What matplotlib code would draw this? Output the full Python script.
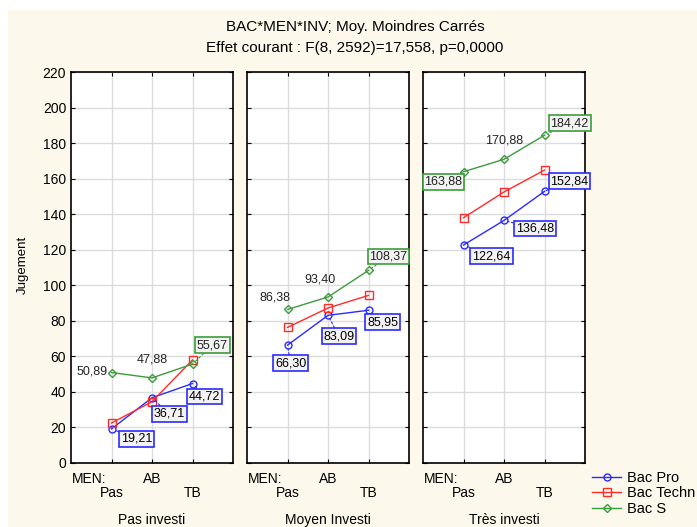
import matplotlib.pyplot as plt
from matplotlib.patches import Rectangle
from matplotlib.lines import Line2D

plt.rcParams['font.family'] = ['Liberation Sans', 'DejaVu Sans']

# data
men_levels = ['Pas', 'AB', 'TB']
inv_levels = ['Pas investi', 'Moyen Investi', 'Très investi']
series_names = ['Bac Pro', 'Bac Techn', 'Bac S']

bac_pro = [[19.21, 36.71, 44.72], [66.30, 83.09, 85.95], [122.64, 136.48, 152.84]]
bac_techn = [[22.5, 34.5, 58.0], [76.3, 87.2, 94.3], [138.0, 152.5, 164.8]]
bac_s = [[50.89, 47.88, 55.67], [86.38, 93.40, 108.37], [163.88, 170.88, 184.42]]

y_ticks = list(range(0, 221, 20))

colors = {'Bac Pro': '#2b2bff', 'Bac Techn': '#ff2a2a', 'Bac S': '#3c9c3c'}
markers = {'Bac Pro': 'o', 'Bac Techn': 's', 'Bac S': 'D'}
msizes = {'Bac Pro': 5, 'Bac Techn': 6, 'Bac S': 4}

# label offsets in pixels (dx, dy) per panel
pro_offsets = [[(25, -10), (17, -16), (12, -13)],
               [(3, -18), (11, -21), (14, -12)],
               [(28, -11), (31, -8), (25, 10)]]
s_offsets = [[(-19, 1), (0, 18), (20, 19)],
             [(-13, 12), (-8, 18), (20, 14)],
             [(-20, -10), (0, 19), (25, 12)]]
s_boxed = [[False, False, True], [False, False, True], [True, False, True]]

W, H = 697, 527
fig = plt.figure(figsize=(W / 100, H / 100), dpi=100)
fig.patch.set_facecolor('white')
fig.patches.append(Rectangle((8 / W, 0), 1, 517 / H, transform=fig.transFigure,
                             facecolor='#fdf8ec', edgecolor='none', zorder=-10))

fmt = lambda v: f'{v:.2f}'.replace('.', ',')

lefts = [71, 247, 423]
x = [1, 2, 3]
for p in range(3):
    ax = fig.add_axes([lefts[p] / W, (H - 463) / H, 162 / W, 391 / H])
    ax.set_facecolor('white')
    ax.set_xlim(0, 4)
    ax.set_ylim(0, 220)
    ax.set_yticks(y_ticks)
    ax.set_xticks(x)
    ax.set_xticklabels([])
    ax.grid(True, color='#dcdcdc', linewidth=1)
    ax.set_axisbelow(True)
    ax.tick_params(direction='in', length=3, top=True, right=True, labelsize=10)
    if p > 0:
        ax.set_yticklabels([])
    for s in ax.spines.values():
        s.set_linewidth(1.2)
    for name, vals in zip(series_names, [bac_pro, bac_techn, bac_s]):
        ax.plot(x, vals[p], color=colors[name], marker=markers[name], ms=msizes[name],
                mfc='none', mew=1, lw=1, zorder=3)
    for i in range(3):
        dx, dy = pro_offsets[p][i]
        ax.annotate(fmt(bac_pro[p][i]), (x[i], bac_pro[p][i]), xytext=(dx, dy),
                    textcoords='offset pixels', ha='center', va='center', fontsize=9,
                    bbox=dict(boxstyle='square,pad=0.15', fc='#f3f3f3', ec=colors['Bac Pro'], lw=1.2),
                    arrowprops=dict(arrowstyle='-', ls=(0, (2, 2)), color=colors['Bac Pro'], lw=0.8,
                                    shrinkA=0, shrinkB=3), zorder=5)
        dx, dy = s_offsets[p][i]
        bb = dict(boxstyle='square,pad=0.15', fc='#f3f3f3', ec=colors['Bac S'], lw=1.2) if s_boxed[p][i] else None
        ap = dict(arrowprops=dict(arrowstyle='-', ls=(0, (2, 2)), color=colors['Bac S'], lw=0.8,
                                  shrinkA=0, shrinkB=3)) if s_boxed[p][i] else {}
        ax.annotate(fmt(bac_s[p][i]), (x[i], bac_s[p][i]), xytext=(dx, dy),
                    textcoords='offset pixels', ha='center', va='center', fontsize=9,
                    color='#222222', bbox=bb, zorder=5, **ap)
    # staggered category labels
    xf = lambda v: (lefts[p] + 162 * v / 4) / W
    fig.text(xf(0.45), 1 - 479 / H, 'MEN:', ha='center', va='center', fontsize=10)
    fig.text(xf(2), 1 - 479 / H, men_levels[1], ha='center', va='center', fontsize=10)
    fig.text(xf(1), 1 - 493 / H, men_levels[0], ha='center', va='center', fontsize=10)
    fig.text(xf(3), 1 - 493 / H, men_levels[2], ha='center', va='center', fontsize=10)
    fig.text(xf(2), 1 - 520 / H, inv_levels[p], ha='center', va='center', fontsize=10)

fig.text(23 / W, 1 - 265 / H, 'Jugement', rotation=90, ha='center', va='center', fontsize=9.5)
fig.text(355 / W, 1 - 27 / H, 'BAC*MEN*INV; Moy. Moindres Carrés', ha='center', va='center', fontsize=11)
fig.text(355 / W, 1 - 48 / H, 'Effet courant : F(8, 2592)=17,558, p=0,0000', ha='center', va='center', fontsize=11)

handles = [Line2D([], [], color=colors[n], marker=markers[n], ms=msizes[n], mfc='none', lw=1)
           for n in series_names]
fig.legend(handles, series_names, loc='upper left', bbox_to_anchor=(592 / W, 1 - 471 / H),
           frameon=False, fontsize=10.5, handlelength=2.0, handletextpad=0.4,
           labelspacing=0.1, borderaxespad=0, borderpad=0)

fig.savefig('out.png', dpi=100)
